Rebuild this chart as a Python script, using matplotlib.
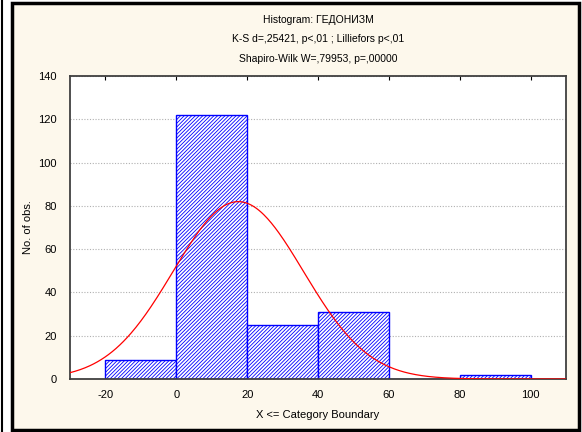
import numpy as np
import matplotlib
matplotlib.use('Agg')
import matplotlib.pyplot as plt
from matplotlib.patches import Rectangle

plt.rcParams['font.family'] = ['Liberation Sans', 'DejaVu Sans']
plt.rcParams['hatch.color'] = '#0000ff'
plt.rcParams['hatch.linewidth'] = 0.6
plt.rcParams['axes.unicode_minus'] = False

## histogram data
bin_edges = [-20, 0, 20, 40, 60, 80, 100]
counts = [9, 122, 25, 31, 0, 2]

## fitted normal curve parameters
fit_mean = 17.5
fit_sd = 18.4
n_obs = sum(counts)
bin_width = 20

title_lines = ['Histogram: ГЕДОНИЗМ',
               'K-S d=,25421, p<,01 ; Lilliefors p<,01',
               'Shapiro-Wilk W=,79953, p=,00000']
x_ticks = [-20, 0, 20, 40, 60, 80, 100]
y_ticks = [0, 20, 40, 60, 80, 100, 120, 140]

fig = plt.figure(figsize=(5.82, 4.32), dpi=100)
fig.patch.set_facecolor('white')

## cream panel with black frame
W, H = 582, 432
fig.patches.append(Rectangle((12 / W, 2 / H), 567 / W, 427 / H, transform=fig.transFigure,
                             facecolor='#fdf8ec', edgecolor='black', linewidth=2.5, zorder=-5))
fig.add_artist(plt.Line2D([1.5 / W, 1.5 / W], [0, 1], transform=fig.transFigure, color='black', linewidth=1.5))

ax = fig.add_axes([70 / W, 1 - 379 / H, (566 - 70) / W, (379 - 76) / H])
ax.set_facecolor('white')

## bars
lefts = np.array(bin_edges[:-1])
ax.bar(lefts, counts, width=bin_width, align='edge', facecolor='white', edgecolor='#0000ff',
       hatch='/////////', linewidth=1.0, zorder=2)

## normal fit
xs = np.linspace(-30, 110, 400)
ys = n_obs * bin_width * np.exp(-0.5 * ((xs - fit_mean) / fit_sd) ** 2) / (fit_sd * np.sqrt(2 * np.pi))
ax.plot(xs, ys, color='red', linewidth=0.9, zorder=3)

ax.set_xlim(-30, 110)
ax.set_ylim(0, 140)
ax.set_xticks(x_ticks)
ax.set_yticks(y_ticks)
ax.yaxis.grid(True, linestyle=(0, (1, 1.5)), color='#b0b0b0', linewidth=0.8, zorder=0)
ax.set_axisbelow(True)
ax.tick_params(axis='x', which='both', direction='in', top=True, bottom=False, length=3,
               labelsize=8, pad=8)
ax.tick_params(axis='y', which='both', left=False, labelsize=8, pad=6)
for s in ax.spines.values():
    s.set_color('#404040')
    s.set_linewidth(1.3)

ax.set_xlabel('X <= Category Boundary', fontsize=8, labelpad=7)
ax.set_ylabel('No. of obs.', fontsize=8, labelpad=4)

## title lines
cx = (70 + 566) / 2 / W
for i, line in enumerate(title_lines):
    fig.text(cx, 1 - (20 + i * 19.5) / H, line, ha='center', va='center', fontsize=7.5)

plt.savefig('out.png', dpi=100, facecolor=fig.get_facecolor())
